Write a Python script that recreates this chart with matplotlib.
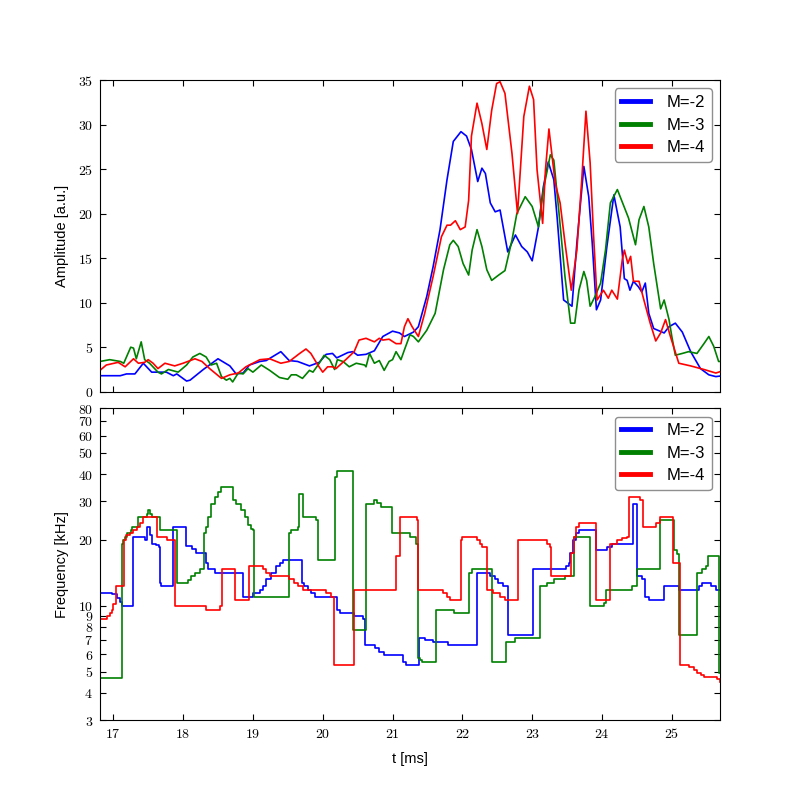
import numpy as np
import matplotlib
matplotlib.use("Agg")
import matplotlib.pyplot as plt
from matplotlib.ticker import FixedLocator, FuncFormatter, NullLocator

plt.rcParams['font.family'] = ['Liberation Sans', 'DejaVu Sans']
plt.rcParams['mathtext.fontset'] = 'cm'
plt.rcParams['xtick.direction'] = 'in'
plt.rcParams['ytick.direction'] = 'in'
plt.rcParams['xtick.top'] = True
plt.rcParams['ytick.right'] = True
plt.rcParams['xtick.major.size'] = 4
plt.rcParams['ytick.major.size'] = 4

labels = ['M=-2', 'M=-3', 'M=-4']
colors = ['b', 'g', 'r']

# amplitude (top panel)
t_amp_m2 = [16.81, 17.10, 17.19, 17.31, 17.43, 17.55, 17.76, 17.86, 17.91, 18.05, 18.1, 18.29, 18.5, 18.67,
            18.76, 18.86, 18.95, 19.1, 19.19, 19.4, 19.52, 19.64, 19.81, 19.95, 20.05, 20.14, 20.2, 20.36,
            20.43, 20.5, 20.62, 20.74, 20.86, 21.0, 21.1, 21.17, 21.3, 21.37, 21.49, 21.58, 21.68, 21.78,
            21.87, 21.98, 22.06, 22.13, 22.22, 22.28, 22.33, 22.4, 22.47, 22.54, 22.65, 22.76, 22.85, 22.93,
            23.0, 23.09, 23.16, 23.23, 23.31, 23.36, 23.45, 23.57, 23.64, 23.74, 23.81, 23.86, 23.92, 23.98,
            24.07, 24.17, 24.26, 24.32, 24.36, 24.4, 24.45, 24.52, 24.57, 24.62, 24.67, 24.74, 24.89, 24.96,
            25.05, 25.15, 25.27, 25.41, 25.53, 25.63, 25.69]
a_m2 = [1.8, 1.8, 2.0, 2.0, 3.2, 2.2, 2.2, 1.8, 2.0, 1.2, 1.3, 2.5, 3.7, 2.9,
        2.0, 2.1, 3.0, 3.4, 3.5, 4.5, 3.5, 3.4, 2.9, 3.3, 4.2, 4.3, 3.8, 4.4,
        4.5, 4.1, 4.2, 4.6, 6.2, 6.8, 6.6, 6.2, 6.7, 7.3, 10.7, 14.0, 18.2, 23.8,
        28.1, 29.2, 28.7, 27.2, 23.6, 25.1, 24.5, 21.2, 20.2, 20.4, 15.7, 17.6, 16.3, 15.7,
        14.7, 18.5, 23.0, 25.8, 23.8, 19.3, 10.3, 9.6, 16.7, 25.3, 21.9, 16.7, 9.2, 10.3,
        16.3, 22.1, 18.5, 12.7, 12.5, 11.4, 12.4, 11.8, 11.2, 12.2, 8.8, 7.1, 6.6, 7.3,
        7.7, 6.7, 4.5, 2.6, 1.9, 1.7, 1.76]

t_amp_m3 = [16.81, 16.95, 17.1, 17.15, 17.25, 17.29, 17.33, 17.4, 17.45, 17.52, 17.64, 17.69, 17.79, 17.93,
            18.05, 18.14, 18.24, 18.33, 18.4, 18.48, 18.55, 18.62, 18.67, 18.71, 18.79, 18.86, 18.93, 19.0,
            19.12, 19.24, 19.38, 19.5, 19.55, 19.62, 19.71, 19.81, 19.86, 19.95, 20.02, 20.1, 20.17, 20.21,
            20.29, 20.38, 20.48, 20.6, 20.62, 20.67, 20.74, 20.81, 20.88, 20.95, 21.0, 21.05, 21.12, 21.17,
            21.25, 21.3, 21.37, 21.49, 21.61, 21.73, 21.82, 21.87, 21.94, 22.01, 22.09, 22.14, 22.21, 22.28,
            22.35, 22.42, 22.52, 22.61, 22.71, 22.78, 22.9, 23.0, 23.09, 23.16, 23.26, 23.31, 23.38, 23.47,
            23.55, 23.61, 23.67, 23.74, 23.78, 23.83, 23.9, 23.98, 24.05, 24.12, 24.22, 24.29, 24.38, 24.48,
            24.53, 24.6, 24.67, 24.74, 24.84, 24.89, 24.96, 25.0, 25.05, 25.15, 25.24, 25.36, 25.46, 25.53,
            25.6, 25.67, 25.69]
a_m3 = [3.4, 3.6, 3.4, 3.2, 5.0, 4.9, 3.7, 5.6, 3.6, 3.2, 2.2, 2.0, 2.5, 2.2,
        3.0, 3.9, 4.3, 3.9, 3.0, 3.2, 1.7, 1.3, 1.5, 1.1, 2.1, 2.0, 2.6, 2.2,
        3.0, 2.4, 1.6, 1.4, 1.9, 1.9, 1.5, 2.4, 2.2, 3.2, 4.1, 3.6, 2.5, 3.6,
        3.4, 2.8, 3.2, 3.0, 2.8, 4.3, 3.2, 3.5, 2.4, 3.4, 3.6, 4.5, 3.6, 4.7,
        6.4, 6.2, 5.6, 6.9, 8.8, 13.7, 16.5, 17.0, 16.3, 14.4, 13.1, 15.9, 18.2, 16.3,
        13.7, 12.5, 13.1, 13.6, 17.0, 20.0, 21.9, 20.8, 18.5, 22.7, 26.6, 26.0, 20.4, 12.9,
        7.7, 7.7, 11.4, 13.5, 12.5, 9.6, 10.7, 12.2, 15.9, 21.2, 22.7, 21.3, 19.5, 16.5,
        19.3, 20.8, 18.5, 14.4, 9.3, 10.3, 8.1, 6.2, 4.1, 4.3, 4.5, 4.3, 5.4, 6.2,
        5.1, 3.4, 3.4]

t_amp_m4 = [16.81, 16.9, 17.07, 17.17, 17.29, 17.36, 17.45, 17.5, 17.57, 17.64, 17.74, 17.88, 18.0, 18.17,
            18.27, 18.38, 18.55, 18.67, 18.79, 18.9, 19.1, 19.24, 19.4, 19.52, 19.67, 19.76, 19.83, 19.93,
            20.0, 20.07, 20.14, 20.19, 20.33, 20.45, 20.52, 20.62, 20.74, 20.81, 20.86, 20.95, 21.05, 21.12,
            21.17, 21.22, 21.28, 21.37, 21.46, 21.58, 21.7, 21.78, 21.83, 21.9, 21.97, 22.04, 22.09, 22.13,
            22.21, 22.28, 22.35, 22.42, 22.49, 22.54, 22.61, 22.71, 22.79, 22.88, 22.96, 23.02, 23.07, 23.15,
            23.19, 23.24, 23.28, 23.33, 23.4, 23.47, 23.56, 23.64, 23.71, 23.77, 23.83, 23.88, 23.93, 24.02,
            24.09, 24.14, 24.22, 24.29, 24.32, 24.37, 24.41, 24.45, 24.53, 24.6, 24.69, 24.77, 24.84, 24.91,
            24.98, 25.1, 25.27, 25.46, 25.63, 25.69]
a_m4 = [2.4, 3.0, 3.3, 2.8, 3.7, 3.2, 3.3, 3.6, 3.2, 2.6, 3.2, 2.9, 3.2, 3.7,
        3.4, 2.6, 1.5, 1.9, 2.1, 2.8, 3.6, 3.7, 3.2, 3.4, 4.3, 4.8, 4.3, 3.0,
        2.2, 2.8, 2.8, 2.6, 3.6, 4.5, 5.8, 6.0, 5.6, 6.0, 5.8, 5.9, 5.4, 5.4,
        7.3, 8.2, 7.3, 6.2, 8.8, 12.9, 17.4, 18.7, 18.7, 19.2, 18.2, 18.5, 21.5, 28.7,
        32.4, 30.1, 27.2, 31.6, 34.6, 34.8, 33.5, 26.8, 20.0, 30.9, 34.3, 32.8, 24.9, 18.9,
        24.9, 29.5, 26.8, 23.4, 21.2, 16.7, 11.4, 15.9, 23.8, 31.5, 25.7, 17.4, 10.3, 11.4,
        10.5, 11.4, 10.4, 14.8, 15.9, 14.4, 15.2, 12.4, 12.4, 10.3, 7.7, 5.7, 6.6, 8.1,
        6.2, 3.2, 2.9, 2.5, 2.1, 2.25]

# frequency (bottom panel), step values
t_f_m2 = [16.81, 16.976, 17.048, 17.095, 17.129, 17.276, 17.452, 17.486, 17.524, 17.557, 17.619, 17.652,
          17.667, 17.69, 17.857, 18.048, 18.133, 18.19, 18.324, 18.357, 18.452, 18.857, 19.0, 19.095,
          19.143, 19.19, 19.262, 19.333, 19.381, 19.438, 19.7, 19.738, 19.786, 19.833, 19.89, 20.205,
          20.248, 20.452, 20.571, 20.605, 20.752, 20.81, 20.88, 21.152, 21.19, 21.378, 21.464, 21.584,
          21.799, 22.206, 22.397, 22.469, 22.517, 22.589, 22.66, 23.005, 23.483, 23.522, 23.545, 23.584,
          23.627, 23.665, 23.919, 24.072, 24.144, 24.44, 24.502, 24.574, 24.622, 24.67, 24.885, 25.1,
          25.388, 25.435, 25.555, 25.627, 25.69]
f_m2 = [11.45, 11.3, 10.8, 10.4, 10.0, 20.6, 20.0, 22.9, 21.0, 19.25, 19.0, 18.6,
        12.7, 12.3, 22.9, 18.7, 18.1, 17.5, 15.7, 14.65, 14.1, 11.0, 11.45, 11.8,
        12.3, 13.2, 14.1, 15.2, 15.7, 16.2, 12.7, 12.3, 11.8, 11.45, 11.0, 9.6,
        9.3, 8.96, 8.66, 6.6, 6.38, 6.16, 5.94, 5.54, 5.34, 7.09, 6.96, 6.84,
        6.6, 14.1, 13.65, 13.2, 12.7, 12.3, 7.34, 14.65, 15.2, 15.7, 17.5, 19.95,
        21.4, 22.2, 17.9, 18.6, 19.25, 29.3, 13.65, 13.2, 11.0, 10.65, 12.3, 11.8,
        12.3, 12.7, 12.3, 11.8, 11.8]

t_f_m3 = [16.81, 17.119, 17.143, 17.167, 17.19, 17.248, 17.262, 17.357, 17.476, 17.5, 17.524, 17.548,
          17.667, 17.914, 18.071, 18.119, 18.167, 18.238, 18.3, 18.324, 18.357, 18.405, 18.452, 18.5,
          18.548, 18.714, 18.762, 18.833, 18.881, 18.929, 18.976, 18.995, 19.01, 19.514, 19.548, 19.643,
          19.667, 19.724, 19.905, 19.938, 20.181, 20.2, 20.438, 20.619, 20.738, 20.771, 20.833, 20.99,
          21.25, 21.33, 21.368, 21.392, 21.416, 21.617, 21.88, 22.1, 22.134, 22.421, 22.627, 22.756,
          23.105, 23.211, 23.306, 23.474, 23.593, 23.823, 24.024, 24.062, 24.431, 24.502, 24.828, 25.038,
          25.077, 25.1, 25.364, 25.435, 25.483, 25.517, 25.675, 25.69]
f_m3 = [4.69, 19.25, 19.95, 20.6, 21.4, 22.2, 22.9, 25.5, 26.4, 27.4, 26.4, 25.5,
        22.2, 12.7, 13.1, 13.65, 14.1, 14.65, 21.4, 22.9, 25.5, 29.3, 31.5, 33.2,
        34.9, 30.4, 29.3, 27.4, 25.5, 23.4, 22.5, 22.2, 11.0, 21.4, 22.2, 22.9,
        32.5, 25.5, 24.6, 16.2, 38.8, 41.4, 7.77, 29.3, 30.4, 29.5, 28.3, 21.4,
        20.6, 19.25, 5.74, 5.64, 5.54, 9.6, 9.3, 14.1, 14.65, 5.54, 6.84, 7.09,
        12.3, 12.7, 13.2, 13.65, 20.6, 10.0, 10.3, 11.8, 12.3, 14.65, 24.6, 17.9,
        17.3, 7.34, 14.1, 14.65, 15.2, 16.85, 4.9, 4.9]

t_f_m4 = [16.81, 16.905, 16.952, 16.976, 17.0, 17.038, 17.157, 17.181, 17.238, 17.286, 17.333, 17.381,
          17.429, 17.629, 17.771, 17.89, 18.333, 18.524, 18.562, 18.748, 18.943, 19.143, 19.19, 19.238,
          19.524, 19.595, 19.643, 19.714, 20.048, 20.119, 20.167, 20.452, 21.048, 21.105, 21.354, 21.368,
          21.718, 21.775, 21.823, 21.976, 21.99, 22.206, 22.254, 22.278, 22.349, 22.359, 22.445, 22.541,
          22.612, 22.804, 23.211, 23.258, 23.268, 23.555, 23.593, 23.627, 23.665, 23.919, 24.12, 24.215,
          24.287, 24.359, 24.383, 24.55, 24.584, 24.78, 24.837, 25.019, 25.124, 25.244, 25.316, 25.364,
          25.411, 25.459, 25.651, 25.69]
f_m4 = [8.66, 8.96, 9.3, 9.6, 10.2, 12.3, 19.95, 21.0, 21.4, 22.2, 22.9, 23.8,
        25.5, 20.6, 19.95, 10.0, 9.6, 10.0, 14.65, 10.65, 15.2, 14.65, 14.1, 13.65,
        13.2, 12.7, 12.3, 11.8, 11.45, 11.0, 5.34, 11.8, 16.85, 25.5, 24.6, 11.8,
        11.45, 11.0, 10.65, 19.95, 20.6, 19.95, 19.25, 18.6, 17.9, 11.8, 11.45, 11.0,
        10.65, 19.95, 19.25, 18.6, 13.65, 17.5, 20.6, 22.9, 23.8, 10.65, 19.25, 19.95,
        20.3, 20.6, 31.5, 30.4, 22.9, 23.8, 25.5, 15.6, 5.34, 5.26, 5.08, 4.9,
        4.82, 4.73, 4.6, 4.49]

freq_ticks = [3, 4, 5, 6, 7, 8, 9, 10, 20, 30, 40, 50, 60, 70, 80]

fig, (ax1, ax2) = plt.subplots(2, 1, sharex=True, figsize=(8, 8), dpi=100)
fig.subplots_adjust(left=0.125, right=0.9, top=0.9, bottom=0.1, hspace=0.053)

mathfmt = FuncFormatter(lambda v, p: r'$%d$' % round(v))

for t, a, c, l in zip([t_amp_m2, t_amp_m3, t_amp_m4], [a_m2, a_m3, a_m4], colors, labels):
    ax1.plot(t, a, color=c, lw=1.2, label=l)
for t, f, c, l in zip([t_f_m2, t_f_m3, t_f_m4], [f_m2, f_m3, f_m4], colors, labels):
    ax2.plot(t, f, color=c, lw=1.2, label=l, drawstyle='steps-post')

ax1.set_xlim(16.81, 25.69)
ax1.set_ylim(0, 35)
ax1.set_yticks(np.arange(0, 36, 5))
ax1.yaxis.set_major_formatter(mathfmt)
ax1.set_ylabel('Amplitude [a.u.]', fontsize=10.5, labelpad=6)

ax2.set_yscale('log')
ax2.set_ylim(3, 80)
ax2.yaxis.set_major_locator(FixedLocator(freq_ticks))
ax2.yaxis.set_minor_locator(NullLocator())
ax2.yaxis.set_major_formatter(mathfmt)
ax2.set_xticks(range(17, 26))
ax2.xaxis.set_major_formatter(mathfmt)
ax2.set_ylabel('Frequency [kHz]', fontsize=10.5, labelpad=6)
ax2.set_xlabel('t [ms]', fontsize=10.5, labelpad=8)

for ax in (ax1, ax2):
    ax.tick_params(labelsize=10, pad=5)
    leg = ax.legend(loc='upper right', fontsize=12, fancybox=True, handlelength=1.7,
                    handletextpad=1.0, borderaxespad=0.5, labelspacing=0.45)
    leg.get_frame().set_edgecolor('0.45')
    for ln in leg.get_lines():
        ln.set_linewidth(3.5)

fig.savefig('out.png', dpi=100)
